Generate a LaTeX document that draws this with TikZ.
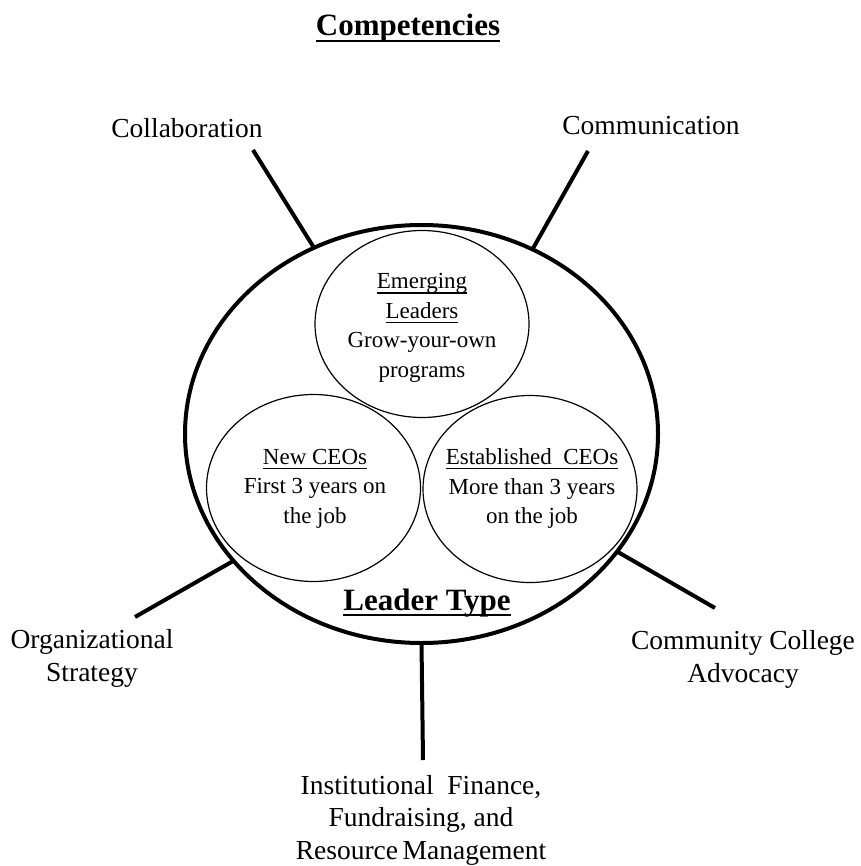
\documentclass[tikz,border=0pt]{standalone}
\usepackage{fontspec}
\setmainfont{Liberation Serif}
\usetikzlibrary{shapes.geometric}

% underline of given thickness (#1) set at a given depth (#2) below the baseline
\newsavebox\ulsave
\newcommand\ulwith[3]{\sbox\ulsave{#3}\leavevmode
  \rlap{\vrule width\wd\ulsave height -#2 depth \dimexpr#2+#1\relax}\usebox\ulsave}
\newcommand\ulthin[1]{\ulwith{1.1pt}{3.6pt}{#1}}
\newcommand\ulthick[1]{\ulwith{2.6pt}{3.8pt}{#1}}

\tikzset{
  ring/.style={ellipse, draw, line width=4pt, inner sep=0pt, outer sep=0pt},
  group/.style={ellipse, draw, line width=1.2pt, inner sep=0pt, outer sep=0pt,
                minimum width=214pt, minimum height=187pt},
  grouptext/.style={align=center, inner sep=0pt, font=\fontsize{23}{29.5}\selectfont},
  label/.style={align=center, inner sep=0pt, font=\fontsize{27.5}{32.5}\selectfont},
  heading/.style={inner sep=0pt, font=\fontsize{31}{36}\selectfont\bfseries},
  spoke/.style={line width=4pt},
}

\begin{document}
\begin{tikzpicture}[x=1pt, y=-1pt]
  \useasboundingbox (0,0) rectangle (860,866);

  % heading
  \node[heading, anchor=base] (title) at (408,36) {\ulthick{Competencies}};

  % outer ring and the three leader groups
  \node[ring, minimum width=473pt, minimum height=418pt] (ring) at (421.5,434) {};
  \node[group] (emerging) at (422,324) {};
  \node[group] (newceo) at (313.5,488) {};
  \node[group] (estceo) at (530,489) {};

  \node[grouptext] (emergingtext) at (422,328)
    {\ulthin{Emerging}\\\ulthin{Leaders}\\Grow-your-own\\programs};
  \node[grouptext] (newceotext) at (315,488.5)
    {\ulthin{New CEOs}\\First 3 years on\\the job};
  \node[grouptext] (estceotext) at (532,488.5)
    {\ulthin{Established\ \ CEOs}\\More than 3 years\\on the job};

  \node[heading, anchor=base] (leadertype) at (427,610) {\ulthick{Leader Type}};

  % competency labels
  \node[label, anchor=base] (collab) at (187,138) {Collaboration};
  \node[label, anchor=base] (comm) at (651,135) {Communication};
  \node[label] (orgstrat) at (92,658.5) {Organizational\\Strategy};
  \node[label] (ccadv) at (743,659.5) {Community College\\Advocacy};
  \node[label] (finance) at (421,820)
    {Institutional\ \ Finance,\\Fundraising,\ and\\Resource\,Management};

  % spoke ends
  \coordinate (collabend) at (253,150);
  \coordinate (commend) at (588,151);
  \coordinate (orgend) at (135,617);
  \coordinate (ccend) at (715,608);
  \coordinate (finend) at (423,760);

  % spokes
  \draw[spoke] (collabend) -- (ring.120.8);
  \draw[spoke] (commend) -- (ring.59.5);
  \draw[spoke] (orgend) -- (ring.214);
  \draw[spoke] (ccend) -- (ring.329.2);
  \draw[spoke] (finend) -- (ring.270);
\end{tikzpicture}
\end{document}
